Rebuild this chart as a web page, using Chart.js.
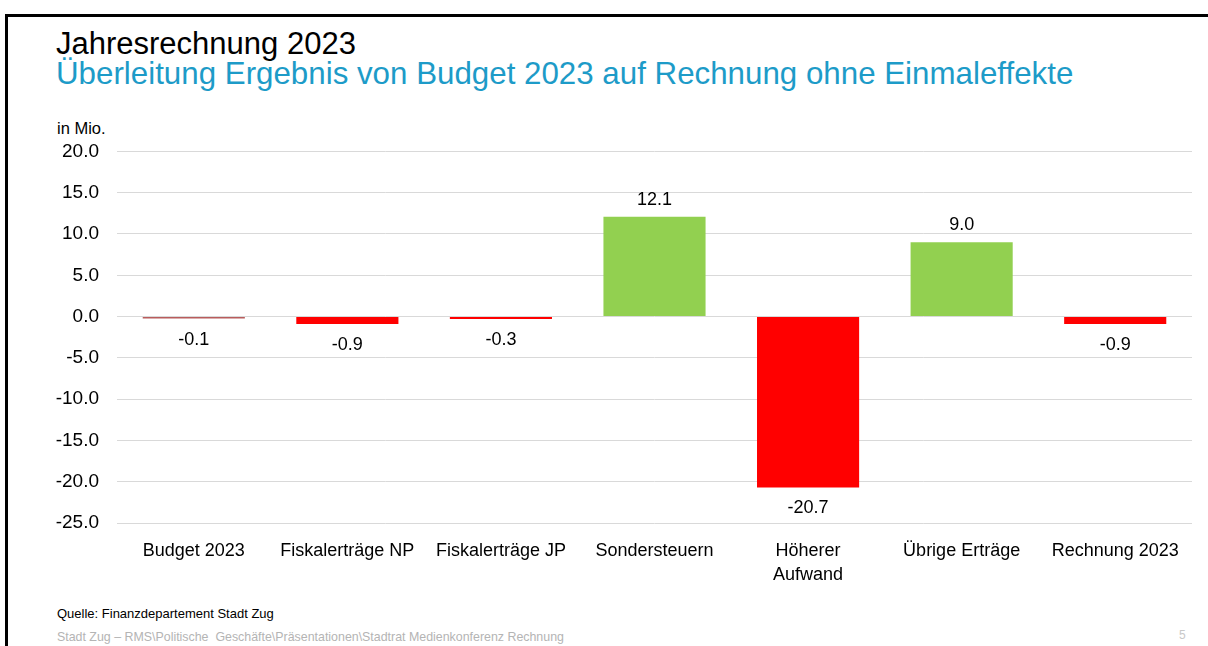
<!DOCTYPE html>
<html>
<head>
<meta charset="utf-8">
<script src="https://cdn.jsdelivr.net/npm/chart.js@4.4.1/dist/chart.umd.min.js"></script>
<style>
  html, body { margin: 0; padding: 0; background: #fff; }
  body { width: 1208px; height: 646px; position: relative; overflow: hidden; font-family: "Liberation Sans", Arial, sans-serif; }
  .frame { position: absolute; left: 5px; top: 14px; width: 1300px; height: 700px; border-top: 3px solid #000; border-left: 3px solid #000; }
  .txt { position: absolute; white-space: nowrap; }
  #title { left: 56px; top: 26px; font-size: 31px; color: #000; }
  #subtitle { left: 56px; top: 56px; font-size: 31.3px; color: #1d9bc8; }
  #unit { left: 57px; top: 119px; font-size: 16.5px; color: #000; }
  #source { left: 57px; top: 606px; font-size: 13px; color: #000; font-family: "Liberation Sans Narrow", "Liberation Sans", sans-serif; }
  #footer { left: 57px; top: 630px; font-size: 12.4px; color: #b4b4b4; font-family: "Liberation Sans Narrow", "Liberation Sans", sans-serif; }
  #page { left: 1179px; top: 628px; font-size: 12px; color: #c8c8c8; }
  .chart-box { position: absolute; left: 40px; top: 122px; width: 1160px; height: 478px; }
</style>
</head>
<body>
<div class="frame"></div>
<div class="txt" id="title">Jahresrechnung 2023</div>
<div class="txt" id="subtitle">Überleitung Ergebnis von Budget 2023 auf Rechnung ohne Einmaleffekte</div>
<div class="txt" id="unit">in Mio.</div>
<div class="chart-box"><canvas id="waterfall"></canvas></div>
<div class="txt" id="source">Quelle: Finanzdepartement Stadt Zug</div>
<div class="txt" id="footer">Stadt Zug – RMS\Politische&nbsp; Geschäfte\Präsentationen\Stadtrat Medienkonferenz Rechnung</div>
<div class="txt" id="page">5</div>

<script>
// chart data (in Mio.)
const categories = ['Budget 2023', 'Fiskalerträge NP', 'Fiskalerträge JP', 'Sondersteuern', ['Höherer', 'Aufwand'], 'Übrige Erträge', 'Rechnung 2023'];
const values = [-0.1, -0.9, -0.3, 12.1, -20.7, 9.0, -0.9];
const barColors = ['#b85c5c', '#ff0000', '#ff0000', '#92d050', '#ff0000', '#92d050', '#ff0000'];
const yMin = -25;
const yMax = 20;
const yStep = 5;

// draws the value next to the end of each bar
const valueLabels = {
    id: 'valueLabels',
    afterDatasetsDraw(chart) {
        const ctx = chart.ctx;
        const meta = chart.getDatasetMeta(0);
        ctx.save();
        ctx.font = '18px "Liberation Sans", Arial, sans-serif';
        ctx.fillStyle = '#000';
        ctx.textAlign = 'center';
        ctx.textBaseline = 'middle';
        meta.data.forEach((bar, i) => {
            const v = values[i];
            const y = v >= 0 ? bar.y - 17 : Math.max(bar.y, bar.base) + 21;
            ctx.fillText(v.toFixed(1), bar.x, y);
        });
        ctx.restore();
    }
};

const ctx = document.getElementById('waterfall').getContext('2d');
new Chart(ctx, {
    type: 'bar',
    data: {
        labels: categories,
        datasets: [{
            data: values,
            backgroundColor: barColors,
            borderWidth: 0,
            minBarLength: 2,
            barPercentage: 0.665,
            categoryPercentage: 1
        }]
    },
    options: {
        responsive: true,
        maintainAspectRatio: false,
        animation: false,
        layout: { padding: { top: 2, right: 8, left: 0, bottom: 0 } },
        plugins: {
            legend: { display: false },
            tooltip: { enabled: false }
        },
        scales: {
            x: {
                grid: { display: false, drawTicks: false },
                border: { display: false },
                afterFit: (s) => { s.height = 77; },
                ticks: {
                    color: '#000',
                    padding: 16,
                    maxRotation: 0,
                    autoSkip: false,
                    font: { family: '"Liberation Sans", Arial, sans-serif', size: 18, lineHeight: 1.33 }
                }
            },
            y: {
                min: yMin,
                max: yMax,
                afterFit: (s) => { s.width = 77; },
                border: { display: false },
                grid: { color: '#d9d9d9', lineWidth: 1, drawTicks: false },
                ticks: {
                    stepSize: yStep,
                    color: '#000',
                    padding: 18,
                    font: { family: '"Liberation Sans", Arial, sans-serif', size: 19 },
                    callback: (v) => Number(v).toFixed(1)
                }
            }
        }
    },
    plugins: [valueLabels]
});
</script>
</body>
</html>
